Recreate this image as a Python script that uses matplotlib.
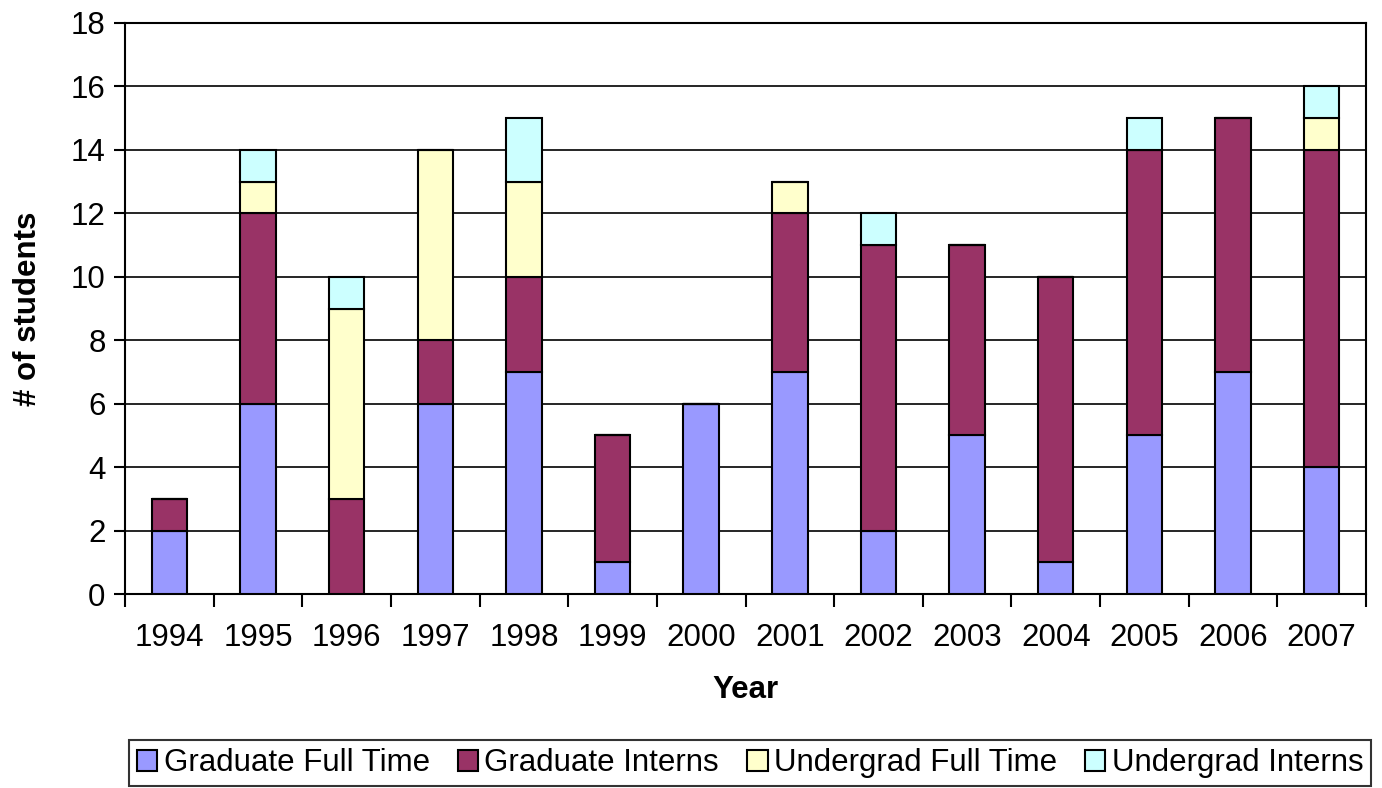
import numpy as np
import matplotlib
matplotlib.use("Agg")
import matplotlib.pyplot as plt

plt.rcParams['font.family'] = ['Liberation Sans', 'DejaVu Sans']

years = ['1994', '1995', '1996', '1997', '1998', '1999', '2000',
         '2001', '2002', '2003', '2004', '2005', '2006', '2007']
grad_full = [2, 6, 0, 6, 7, 1, 6, 7, 2, 5, 1, 5, 7, 4]
grad_intern = [1, 6, 3, 2, 3, 4, 0, 5, 9, 6, 9, 9, 8, 10]
ugrad_full = [0, 1, 6, 6, 3, 0, 0, 1, 0, 0, 0, 0, 0, 1]
ugrad_intern = [0, 1, 1, 0, 2, 0, 0, 0, 1, 0, 0, 1, 0, 1]

series = [
    ("Graduate Full Time", grad_full, "#9999FF"),
    ("Graduate Interns", grad_intern, "#993366"),
    ("Undergrad Full Time", ugrad_full, "#FFFFCC"),
    ("Undergrad Interns", ugrad_intern, "#CCFFFF"),
]

fs = 22.5

fig = plt.figure(figsize=(13.82, 7.88), dpi=100)
ax = fig.add_axes([125 / 1382, 1 - 594 / 788, 1241 / 1382, 571 / 788])

x = np.arange(len(years))
bottom = np.zeros(len(years))
for name, vals, col in series:
    vals = np.array(vals, dtype=float)
    ax.bar(x, vals, width=0.4, bottom=bottom, color=col, edgecolor='black',
           linewidth=1.5, label=name, zorder=3)
    bottom += vals

ax.set_xlim(-0.5, len(years) - 0.5)
ax.set_ylim(0, 18)
ax.set_yticks(range(0, 19, 2))
ax.yaxis.grid(True, color='black', linewidth=1.2, zorder=0)
ax.set_xticks(x)
ax.set_xticklabels(years, fontsize=fs)
ax.tick_params(axis='x', which='major', length=0, pad=21)
ax.set_xticks(np.arange(-0.5, len(years), 1), minor=True)
ax.tick_params(axis='x', which='minor', length=9, width=1.5, direction='out')
ax.tick_params(axis='y', labelsize=fs, length=8, width=1.5, direction='out', pad=6)
for s in ax.spines.values():
    s.set_linewidth(1.5)

ax.set_xlabel("Year", fontsize=fs, fontweight='bold', labelpad=16)
ax.set_ylabel("# of students", fontsize=fs, fontweight='bold', labelpad=20)

leg = fig.legend(loc='lower right', bbox_to_anchor=(1371 / 1382, 2 / 788),
                 ncol=4, fontsize=fs, frameon=True, fancybox=False,
                 handlelength=0.65, handleheight=0.65, handletextpad=0.2,
                 columnspacing=0.9, borderpad=0.25, borderaxespad=0)
leg.get_frame().set_edgecolor('black')
leg.get_frame().set_linewidth(1.5)
for h in leg.legend_handles:
    h.set_linewidth(1.5)

fig.savefig("out.png", dpi=100)
